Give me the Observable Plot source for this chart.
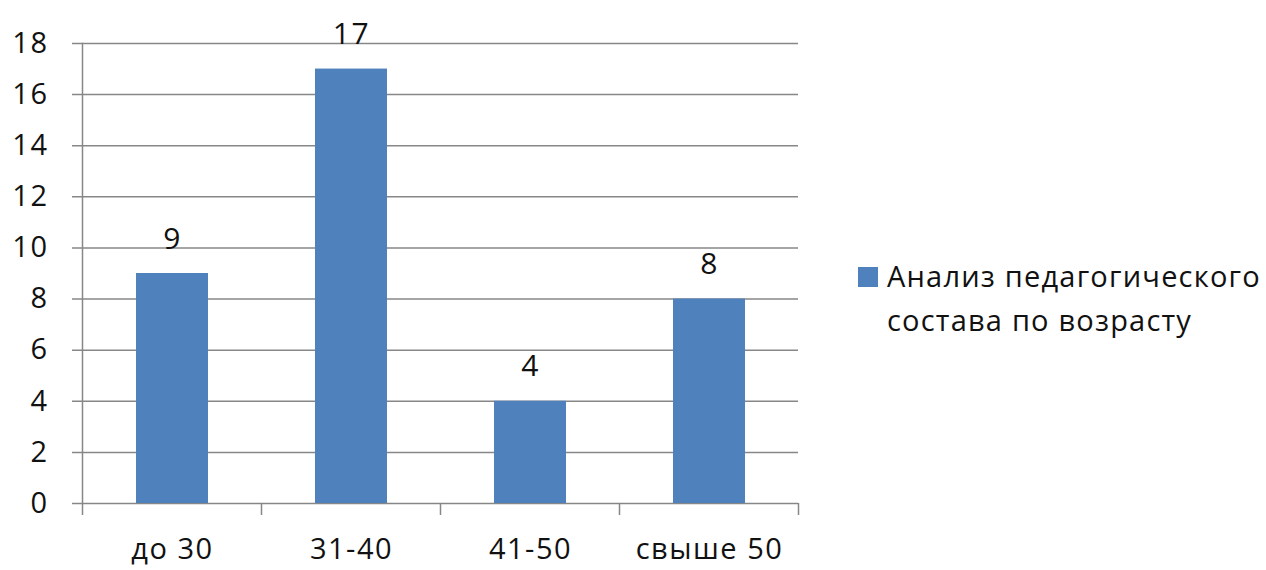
<!DOCTYPE html>
<html><head><meta charset="utf-8">
<script src="https://cdn.jsdelivr.net/npm/d3@7"></script>
<script src="https://cdn.jsdelivr.net/npm/@observablehq/plot@0.6"></script>
<style>
html,body{margin:0;padding:0;background:#fff;}
#wrap{position:relative;width:1266px;height:570px;font-family:"Open Sans",sans-serif;}
#legend{position:absolute;left:858px;top:254px;font-size:29px;line-height:44px;letter-spacing:1.2px;color:#111;white-space:nowrap;}
#legend .sw{display:inline-block;width:20px;height:20px;background:#4F81BD;margin-right:9px;vertical-align:baseline;}
#legend .l2{padding-left:29px;}
svg text{letter-spacing:1.5px;}
</style></head>
<body><div id="wrap"></div>
<script>
const categories = ["до 30", "31-40", "41-50", "свыше 50"];
const values = [9, 17, 4, 8];
const yTicks = [0, 2, 4, 6, 8, 10, 12, 14, 16, 18];
const seriesLine1 = "Анализ педагогического";
const seriesLine2 = "состава по возрасту";

const data = categories.map((c, i) => ({category: c, value: values[i]}));
const grey = "#878787";

function boundaryTicks(...args) {
  let scales = null, dim = null;
  for (const a of args) {
    if (a && typeof a === "object") {
      if (typeof a.x === "function" && !scales) scales = a;
      if (typeof a.height === "number" && typeof a.marginBottom === "number") dim = a;
    }
  }
  const x = scales.x;
  const step = x(categories[1]) - x(categories[0]);
  const bw = x.bandwidth ? x.bandwidth() : step * 0.4;
  const gap = (step - bw) / 2;
  const xs = categories.map(c => x(c) - gap);
  xs.push(x(categories[categories.length - 1]) + bw + gap);
  const y0 = dim.height - dim.marginBottom;
  const g = d3.create("svg:g");
  g.selectAll("line").data(xs).join("line")
    .attr("x1", d => d).attr("x2", d => d)
    .attr("y1", y0).attr("y2", y0 + 12)
    .attr("stroke", grey).attr("stroke-width", 1.5);
  return g.node();
}

const chart = Plot.plot({
  width: 1266, height: 570,
  marginLeft: 82, marginRight: 468, marginTop: 43, marginBottom: 67,
  style: {fontFamily: "'Open Sans', sans-serif", fontSize: "29px", color: "#111", background: "white", overflow: "visible"},
  x: {domain: categories, paddingInner: 0.6, paddingOuter: 0.3, label: null},
  y: {domain: [0, 18], label: null},
  marks: [
    Plot.ruleY(yTicks, {stroke: grey, strokeWidth: 1.5, insetLeft: -10}),
    Plot.frame({anchor: "left", stroke: grey, strokeWidth: 1.5}),
    boundaryTicks,
    Plot.barY(data, {x: "category", y: "value", fill: "#4F81BD"}),
    Plot.text(data, {x: "category", y: "value", text: d => String(d.value), lineAnchor: "bottom", dy: -25, fontSize: 30, fill: "#111"}),
    Plot.axisY({ticks: yTicks, tickSize: 0, tickPadding: 34, label: null, fontSize: 29}),
    Plot.axisX({tickSize: 0, tickPadding: 35, label: null, fontSize: 29})
  ]
});
const wrap = document.getElementById("wrap");
wrap.appendChild(chart);
const lg = document.createElement("div");
lg.id = "legend";
lg.innerHTML = `<div><span class="sw"></span>${seriesLine1}</div><div class="l2">${seriesLine2}</div>`;
wrap.appendChild(lg);
</script></body></html>
